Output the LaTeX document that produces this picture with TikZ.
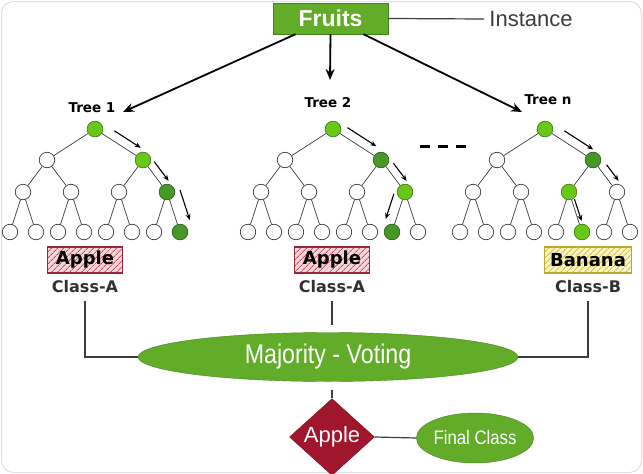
\documentclass[tikz,border=0pt]{standalone}
\usepackage{fontspec}
\setmainfont{Liberation Sans}
\newfontfamily\labelfont{DejaVu Sans}
\newfontfamily\narrowfont[FakeStretch=0.86]{Liberation Sans}
\usetikzlibrary{arrows.meta,calc,positioning,shapes.geometric,patterns.meta}
\definecolor{fruitgreen}{RGB}{98,172,42}
\definecolor{fruitedge}{RGB}{66,132,28}
\definecolor{leafgreen}{RGB}{104,200,24}
\definecolor{pathgreen}{RGB}{72,152,40}
\definecolor{applered}{RGB}{160,22,44}
\definecolor{appleedge}{RGB}{150,40,60}
\definecolor{applefill}{RGB}{246,214,218}
\definecolor{applehatch}{RGB}{200,80,95}
\definecolor{bananafill}{RGB}{250,244,196}
\definecolor{bananahatch}{RGB}{210,188,70}
\definecolor{bananaedge}{RGB}{185,170,50}
\definecolor{inkgray}{RGB}{60,60,60}

\begin{document}
\begin{tikzpicture}[x=1pt, y=-1pt,
  knot/.style={circle, draw=inkgray, line width=0.7pt, fill=white,
    minimum size=15.5pt, inner sep=0pt},
  twig/.style={inkgray, line width=0.7pt},
  walk/.style={black, line width=1.1pt, -{Stealth[length=6pt,width=5pt]}},
  feed/.style={black, line width=1.8pt, -{Stealth[length=11pt,width=9pt]}},
  wire/.style={inkgray, line width=1.2pt},
  treelabel/.style={font=\labelfont\bfseries\fontsize{13.5}{14}\selectfont},
  classlabel/.style={font=\labelfont\bfseries\fontsize{16}{16}\selectfont,
    text=inkgray!80!black},
  votebox/.style={minimum height=26pt, inner sep=2pt, line width=1.2pt,
    font=\labelfont\bfseries\fontsize{18}{18}\selectfont},
  applebox/.style={votebox, minimum width=75pt, draw=appleedge,
    preaction={fill=applefill},
    pattern={Lines[angle=45,distance=4pt,line width=0.9pt]},
    pattern color=applehatch},
  bananabox/.style={votebox, minimum width=87pt, draw=bananaedge,
    preaction={fill=bananafill},
    pattern={Lines[angle=45,distance=4pt,line width=0.9pt]},
    pattern color=bananahatch}]

  \useasboundingbox (0,0) rectangle (643,474);
  \draw[gray!25, rounded corners=12pt, line width=1pt]
    (1.5,1.5) rectangle (641.5,472.5);

  % ============================================================
  % TOP: instance and the three trees it is fed to
  % ============================================================
  \node[draw=fruitedge, fill=fruitgreen, minimum width=115pt,
        minimum height=31pt, inner sep=0pt, text=white,
        font=\bfseries\fontsize{23}{23}\selectfont]
    (fruits) at (330.5,18.5) {Fruits};
  \node[font=\fontsize{22}{22}\selectfont, text=inkgray, inner sep=5pt]
    (instance) at (531,19) {Instance};
  \draw[wire] (fruits.east) -- (instance.west);

  \node[treelabel] (tree1) at (92,108) {Tree 1};
  \node[treelabel] (tree2) at (328,103) {Tree 2};
  \node[treelabel] (treen) at (548,100) {Tree n};

  \coordinate (in1) at (123,112);
  \coordinate (in2) at (330,80);
  \coordinate (inn) at (522,112);
  \draw[feed] ([xshift=-35pt]fruits.south) -- (in1);
  \draw[feed] (fruits.south) -- (in2);
  \draw[feed] ([xshift=33pt]fruits.south) -- (inn);

  % --- the trees (heap numbering: children of i are 2i, 2i+1) ---
  \foreach \t/\rx in {1/95, 2/333, n/545} {
    \foreach \i/\dx/\y in {1/0/129, 2/-48/160, 3/48/160,
        4/-72/192, 5/-24/192, 6/24/192, 7/72/192,
        8/-85/232, 9/-59/232, 10/-37/232, 11/-11/232,
        12/11/232, 13/37/232, 14/59/232, 15/85/232}
      \node[knot] (t\t-\i) at (\rx+\dx,\y) {};
    \foreach \i in {2,...,15} {
      \pgfmathtruncatemacro{\p}{\i/2}
      \draw[twig] (t\t-\p) -- (t\t-\i);
    }
  }

  % decision path of each tree
  \foreach \n/\c in {t1-1/leafgreen, t1-3/leafgreen, t1-7/pathgreen,
      t1-15/pathgreen, t2-1/leafgreen, t2-3/pathgreen, t2-7/leafgreen,
      t2-14/pathgreen, tn-1/leafgreen, tn-3/pathgreen, tn-6/leafgreen,
      tn-13/leafgreen}
    \filldraw[fill=\c, draw=\c!70!black, line width=0.5pt] (\n) circle (7.75pt);

  \foreach \a/\b/\s/\e/\d/\r in {
      t1-1/t1-3/0.3/0.85/9/90, t1-3/t1-7/0.2/0.8/8/90,
      t1-7/t1-15/0.05/0.8/13/90,
      t2-1/t2-3/0.2/0.8/9/90, t2-3/t2-7/0.25/0.8/8/90,
      t2-7/t2-14/0.12/0.75/10/-90,
      tn-1/tn-3/0.3/0.9/9/90, tn-3/tn-7/0.3/0.8/8/90,
      tn-6/tn-13/0.2/0.75/3/90}
    \draw[walk] ($(\a)!\s!(\b)!\d pt!\r:(\b)$) -- ($(\a)!\e!(\b)!\d pt!\r:(\b)$);

  % dashes between tree 2 and tree n
  \draw[black, line width=3pt, dash pattern=on 10pt off 8pt]
    (420,146) -- (466,146);

  % ============================================================
  % VOTES
  % ============================================================
  \node[applebox] (lab1) at (85,260) {Apple};
  \node[applebox] (lab2) at (332,260) {Apple};
  \node[bananabox] (labn) at (588,260) {Banana};

  \node[classlabel] (cls1) at (85,287) {Class-A};
  \node[classlabel] (cls2) at (332,287) {Class-A};
  \node[classlabel] (clsn) at (588,287) {Class-B};

  \node[ellipse, draw=fruitedge, fill=fruitgreen, minimum width=380pt,
        minimum height=49pt, inner sep=0pt, text=white,
        font=\narrowfont\fontsize{27}{27}\selectfont]
    (vote) at (328,357) {Majority - Voting};

  \draw[wire, shorten <=4pt] (cls1.south) |- (vote.west);
  \draw[wire, shorten <=4pt, shorten >=7pt]
    (cls2.south) -- (cls2.south |- vote.north);
  \draw[wire, shorten <=4pt] (clsn.south) |- (vote.east);

  % ============================================================
  % RESULT
  % ============================================================
  \node[diamond, draw=applered!80!black, fill=applered, minimum width=85pt,
        minimum height=66pt, inner sep=0pt, text=white,
        font=\fontsize{22}{22}\selectfont]
    (final) at (332,437) {Apple};
  \node[ellipse, draw=fruitedge, fill=fruitgreen, minimum width=96pt,
        minimum height=50pt, inner sep=0pt, text=white,
        font=\narrowfont\fontsize{19.5}{20}\selectfont]
    (fclass) at (475,438) {Final Class};

  \draw[wire, shorten <=8pt] (final.north |- vote.south) -- (final.north);
  \draw[wire] (final.east) -- (fclass.west);

\end{tikzpicture}
\end{document}
